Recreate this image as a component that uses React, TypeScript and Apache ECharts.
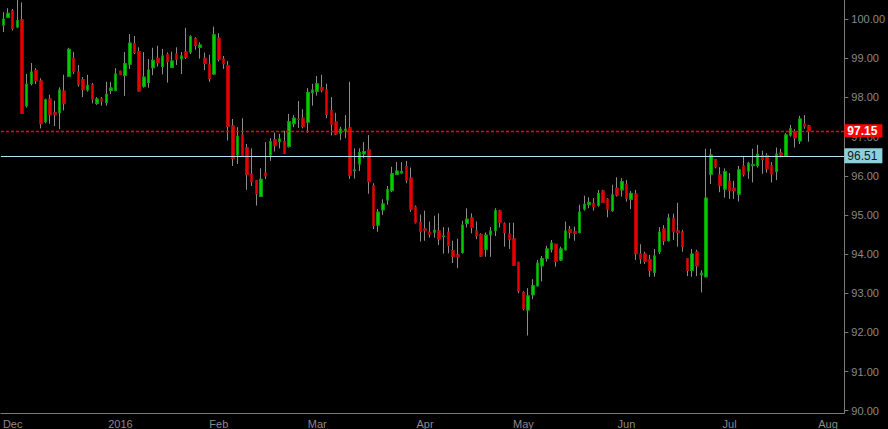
import React, { useEffect, useRef } from "react";
import * as echarts from "echarts";

// Daily OHLC, one entry per weekday starting 2015-11-27
const openPrices = [
  99.85, 100.05, 100.21, 99.8, 99.98, 97.79, 98.36, 98.69, 98.42, 97.38,
  97.96, 97.61, 97.61, 98.16, 98.54, 99.0, 98.65, 98.45, 98.19, 98.32,
  97.85, 97.96, 97.87, 98.18, 98.18, 98.67, 98.56, 98.85, 99.37, 99.17,
  98.28, 98.38, 98.76, 99.0, 98.79, 99.1, 98.77, 99.11, 98.99, 99.16,
  99.16, 99.5, 99.28, 99.0, 98.85, 98.6, 99.51, 98.98, 98.81, 97.27,
  96.53, 97.04, 96.71, 96.04, 95.87, 95.47, 96.07, 96.53, 96.92, 96.87,
  96.87, 96.75, 97.33, 97.45, 97.47, 97.37, 98.12, 98.16, 98.25, 98.19,
  97.66, 97.37, 97.09, 97.15, 97.22, 96.13, 96.3, 96.56, 96.66, 95.74,
  94.74, 95.13, 95.38, 95.62, 96.04, 96.07, 96.23, 95.94, 95.2, 94.81,
  94.64, 94.56, 94.56, 94.59, 94.45, 94.56, 94.09, 93.98, 94.04, 94.78,
  94.92, 94.59, 94.49, 94.12, 94.49, 94.6, 95.1, 94.77, 94.51, 94.39,
  93.79, 93.01, 92.57, 92.96, 93.19, 93.7, 93.89, 94.12, 94.25, 93.85,
  94.11, 94.63, 94.57, 94.55, 95.15, 95.27, 95.3, 95.24, 95.61, 95.4,
  95.11, 95.68, 95.64, 95.78, 95.4, 95.53, 94.0, 94.0, 93.85, 93.53,
  94.06, 94.64, 94.34, 94.9, 94.59, 94.56, 93.88, 93.58, 94.05, 93.47,
  93.42, 96.04, 96.41, 96.02, 95.66, 95.86, 95.68, 95.53, 96.25, 96.12,
  96.26, 96.26, 96.51, 96.51, 96.25, 96.11, 96.58, 96.51, 97.04, 97.13,
  96.89, 97.32, 97.27,
];
const closePrices = [
  100.0, 100.15, 99.77, 99.96, 97.6, 98.34, 98.65, 98.43, 97.33, 97.94,
  97.56, 97.56, 98.19, 97.85, 99.23, 98.66, 98.34, 98.21, 98.31, 97.96,
  97.96, 97.91, 98.08, 98.24, 98.6, 98.59, 98.86, 99.39, 99.15, 98.17,
  98.52, 98.7, 98.95, 98.89, 99.06, 98.92, 98.93, 98.98, 99.06, 99.03,
  99.55, 99.33, 99.34, 98.87, 98.49, 99.6, 98.98, 98.86, 97.26, 96.44,
  97.01, 96.53, 96.03, 95.85, 95.54, 95.91, 96.0, 96.87, 96.77, 96.94,
  96.58, 97.38, 97.47, 97.44, 97.26, 98.13, 98.19, 98.35, 98.19, 97.57,
  97.32, 97.07, 97.19, 97.19, 96.02, 96.15, 96.6, 96.62, 95.85, 94.73,
  95.07, 95.28, 95.64, 96.05, 96.12, 96.11, 95.89, 95.15, 94.81, 94.58,
  94.6, 94.51, 94.61, 94.39, 94.46, 94.22, 93.94, 93.93, 94.74, 94.89,
  94.68, 94.47, 93.95, 94.48, 94.59, 95.11, 94.81, 94.55, 94.38, 93.72,
  93.06, 92.61, 92.93, 93.19, 93.77, 93.88, 94.13, 94.28, 93.81, 94.13,
  94.59, 94.56, 94.53, 95.07, 95.27, 95.32, 95.21, 95.55, 95.32, 95.15,
  95.51, 95.51, 95.85, 95.43, 95.55, 94.02, 93.88, 93.81, 93.58, 93.95,
  94.56, 94.34, 94.92, 94.57, 94.55, 94.19, 93.58, 94.0, 93.7, 93.51,
  95.43, 96.53, 96.23, 95.75, 96.11, 95.63, 95.62, 96.15, 96.04, 96.32,
  96.28, 96.55, 96.42, 96.18, 96.05, 96.55, 96.53, 97.04, 97.2, 96.97,
  97.45, 97.27, 97.15,
];
const lowPrices = [
  99.67, 100.03, 99.71, 99.77, 97.58, 97.74, 98.31, 98.34, 97.21, 97.34,
  97.33, 97.27, 97.19, 97.67, 98.52, 98.6, 98.28, 98.01, 98.15, 97.85,
  97.81, 97.79, 97.79, 98.09, 98.16, 98.58, 98.04, 98.73, 99.11, 98.15,
  98.25, 98.25, 98.57, 98.79, 98.59, 98.38, 98.76, 98.83, 98.6, 98.98,
  99.11, 99.22, 98.99, 98.7, 98.4, 98.58, 98.92, 98.73, 96.9, 96.25,
  96.3, 96.52, 95.64, 95.74, 95.24, 95.47, 95.92, 96.38, 96.62, 96.7,
  96.56, 96.72, 97.24, 97.22, 97.21, 97.1, 97.79, 98.05, 98.13, 97.47,
  97.03, 97.04, 96.91, 96.96, 95.92, 95.93, 96.12, 96.45, 95.54, 94.64,
  94.57, 95.0, 95.26, 95.58, 96.02, 96.06, 95.81, 95.08, 94.78, 94.32,
  94.34, 94.42, 94.42, 94.23, 94.01, 94.02, 93.77, 93.64, 94.01, 94.68,
  94.53, 94.38, 93.93, 93.93, 93.93, 94.46, 94.68, 94.19, 94.13, 93.7,
  93.0, 92.56, 91.92, 92.85, 93.17, 93.3, 93.81, 94.04, 93.68, 93.82,
  94.09, 94.4, 94.34, 94.53, 95.11, 95.17, 95.11, 95.21, 95.3, 94.94,
  95.08, 95.47, 95.47, 95.34, 95.15, 93.85, 93.75, 93.75, 93.42, 93.42,
  94.0, 94.23, 94.32, 94.36, 94.19, 94.06, 93.44, 93.42, 93.44, 93.02,
  93.4, 95.79, 96.19, 95.58, 95.44, 95.41, 95.41, 95.34, 95.98, 95.92,
  95.83, 96.21, 96.05, 96.08, 95.83, 95.89, 96.47, 96.51, 97.0, 96.72,
  96.81, 97.2, 96.87,
];
const highPrices = [
  100.18, 100.28, 100.26, 100.6, 100.43, 98.6, 98.88, 98.75, 98.49, 97.97,
  98.07, 97.92, 98.26, 98.58, 99.27, 99.16, 98.83, 98.52, 98.58, 98.37,
  98.01, 98.01, 98.4, 98.4, 98.75, 98.68, 99.16, 99.62, 99.57, 99.28,
  99.16, 98.98, 99.27, 99.32, 99.24, 99.15, 99.17, 99.28, 99.16, 99.78,
  99.59, 99.54, 99.41, 99.15, 99.09, 99.81, 99.64, 99.06, 98.93, 97.45,
  97.24, 97.47, 96.81, 96.7, 95.89, 96.19, 96.86, 96.96, 97.1, 97.07,
  97.15, 97.58, 97.55, 97.91, 97.7, 98.24, 98.35, 98.55, 98.58, 98.35,
  98.01, 97.61, 97.25, 97.55, 98.4, 96.7, 96.7, 96.86, 97.04, 95.81,
  95.15, 95.4, 95.74, 96.23, 96.35, 96.35, 96.38, 96.21, 95.24, 95.01,
  95.11, 94.83, 94.98, 95.04, 94.69, 94.68, 94.34, 94.39, 94.85, 95.17,
  95.04, 94.83, 94.53, 94.55, 94.69, 95.17, 95.13, 94.81, 94.8, 94.8,
  93.79, 93.05, 93.13, 93.36, 93.85, 93.95, 94.21, 94.36, 94.26, 94.19,
  94.83, 94.72, 94.7, 95.26, 95.49, 95.45, 95.43, 95.64, 95.64, 95.43,
  95.77, 95.96, 95.94, 95.89, 95.61, 95.64, 94.25, 94.06, 93.98, 94.13,
  94.69, 94.74, 95.03, 95.03, 95.31, 94.62, 93.89, 94.13, 94.11, 93.59,
  96.69, 96.69, 96.43, 96.22, 96.19, 96.07, 95.87, 96.25, 96.49, 96.36,
  96.69, 96.79, 96.64, 96.58, 96.35, 96.72, 96.69, 97.09, 97.3, 97.19,
  97.53, 97.55, 97.3,
];

const referenceLevel = 96.51;
const monthNames = ["2016", "Feb", "Mar", "Apr", "May", "Jun", "Jul", "Aug", "Sep", "Oct", "Nov", "Dec"];
const firstDate = { y: 2015, m: 10, d: 27 }; // 27 Nov 2015
const slotCount = 180;
const yMin = 89.94;
const yMax = 100.49;

function buildDates(): Date[] {
  const out: Date[] = [];
  const d = new Date(Date.UTC(firstDate.y, firstDate.m, firstDate.d));
  while (out.length < slotCount) {
    const wd = d.getUTCDay();
    if (wd !== 0 && wd !== 6) out.push(new Date(d.getTime()));
    d.setUTCDate(d.getUTCDate() + 1);
  }
  return out;
}

const FONT = "'Liberation Sans', Arial, sans-serif";

export default function App() {
  const ref = useRef<HTMLDivElement>(null);

  useEffect(() => {
    if (!ref.current) return;
    const chart = echarts.init(ref.current, undefined, { renderer: "svg" });

    const dates = buildDates();
    const categories = dates.map((d) => d.toISOString().slice(0, 10));
    const monthStart = dates.map((d, i) => i > 0 && d.getUTCMonth() !== dates[i - 1].getUTCMonth());
    const labelFor = dates.map((d) => monthNames[d.getUTCMonth()]);

    const full = openPrices.map((o, i) => [o, closePrices[i], lowPrices[i], highPrices[i]]);
    const bodies = openPrices.map((o, i) => [
      o,
      closePrices[i],
      Math.min(o, closePrices[i]),
      Math.max(o, closePrices[i]),
    ]);
    const lastClose = closePrices[closePrices.length - 1];

    chart.setOption({
      animation: false,
      backgroundColor: "#000000",
      grid: { left: 0, right: 35, top: 0, bottom: 16, containLabel: false },
      xAxis: {
        type: "category",
        data: categories,
        boundaryGap: true,
        axisLine: { lineStyle: { color: "#7a7a7a", width: 1 } },
        axisTick: {
          alignWithLabel: true,
          length: 3,
          lineStyle: { color: "#7a7a7a" },
          interval: (i: number) => monthStart[i],
        },
        axisLabel: {
          interval: (i: number) => monthStart[i],
          formatter: (_v: string, i: number) => labelFor[i],
          color: "#8a8a8a",
          fontSize: 11,
          fontFamily: FONT,
          margin: 5,
        },
        splitLine: { show: false },
      },
      yAxis: {
        type: "value",
        position: "right",
        min: yMin,
        max: yMax,
        splitNumber: 10,
        axisLine: { show: true, lineStyle: { color: "#7a7a7a", width: 1 } },
        axisTick: { show: true, length: 4, lineStyle: { color: "#7a7a7a" } },
        axisLabel: {
          color: "#8a8a8a",
          fontSize: 11,
          fontFamily: FONT,
          margin: 7,
          showMinLabel: false,
          showMaxLabel: false,
          formatter: (v: number) => v.toFixed(2),
        },
        splitLine: { show: false },
      },
      series: [
        {
          type: "candlestick",
          data: full,
          barWidth: 3,
          itemStyle: {
            color: "transparent",
            color0: "transparent",
            borderColor: "#8c8c8c",
            borderColor0: "#8c8c8c",
            borderWidth: 1,
          },
        },
        {
          type: "candlestick",
          data: bodies,
          barWidth: 3,
          itemStyle: {
            color: "#00cc00",
            color0: "#e60000",
            borderColor: "#009a00",
            borderColor0: "#b00000",
            borderWidth: 1,
          },
          markLine: {
            silent: true,
            symbol: ["none", "none"],
            animation: false,
            data: [
              {
                yAxis: referenceLevel,
                lineStyle: { color: "#b4e2ee", type: "solid", width: 1 },
                label: {
                  show: true,
                  position: "end",
                  distance: 0,
                  formatter: () => referenceLevel.toFixed(2),
                  backgroundColor: "#8fd0dd",
                  color: "#0c1c20",
                  fontSize: 12,
                  fontFamily: FONT,
                  padding: [2, 5, 1, 3],
                },
              },
              {
                yAxis: lastClose,
                lineStyle: { color: "#ff0000", type: [3, 2], width: 1.3 },
                label: {
                  show: true,
                  position: "end",
                  distance: 0,
                  formatter: () => lastClose.toFixed(2),
                  backgroundColor: "#ff0000",
                  color: "#ffffff",
                  fontSize: 12,
                  fontWeight: "bold",
                  fontFamily: FONT,
                  padding: [1, 5, 0, 3],
                },
              },
            ],
          },
        },
      ],
    });

    return () => chart.dispose();
  }, []);

  return (
    <div
      ref={ref}
      style={{ position: "absolute", left: 0, top: 0, width: 888, height: 429, background: "#000" }}
    />
  );
}
